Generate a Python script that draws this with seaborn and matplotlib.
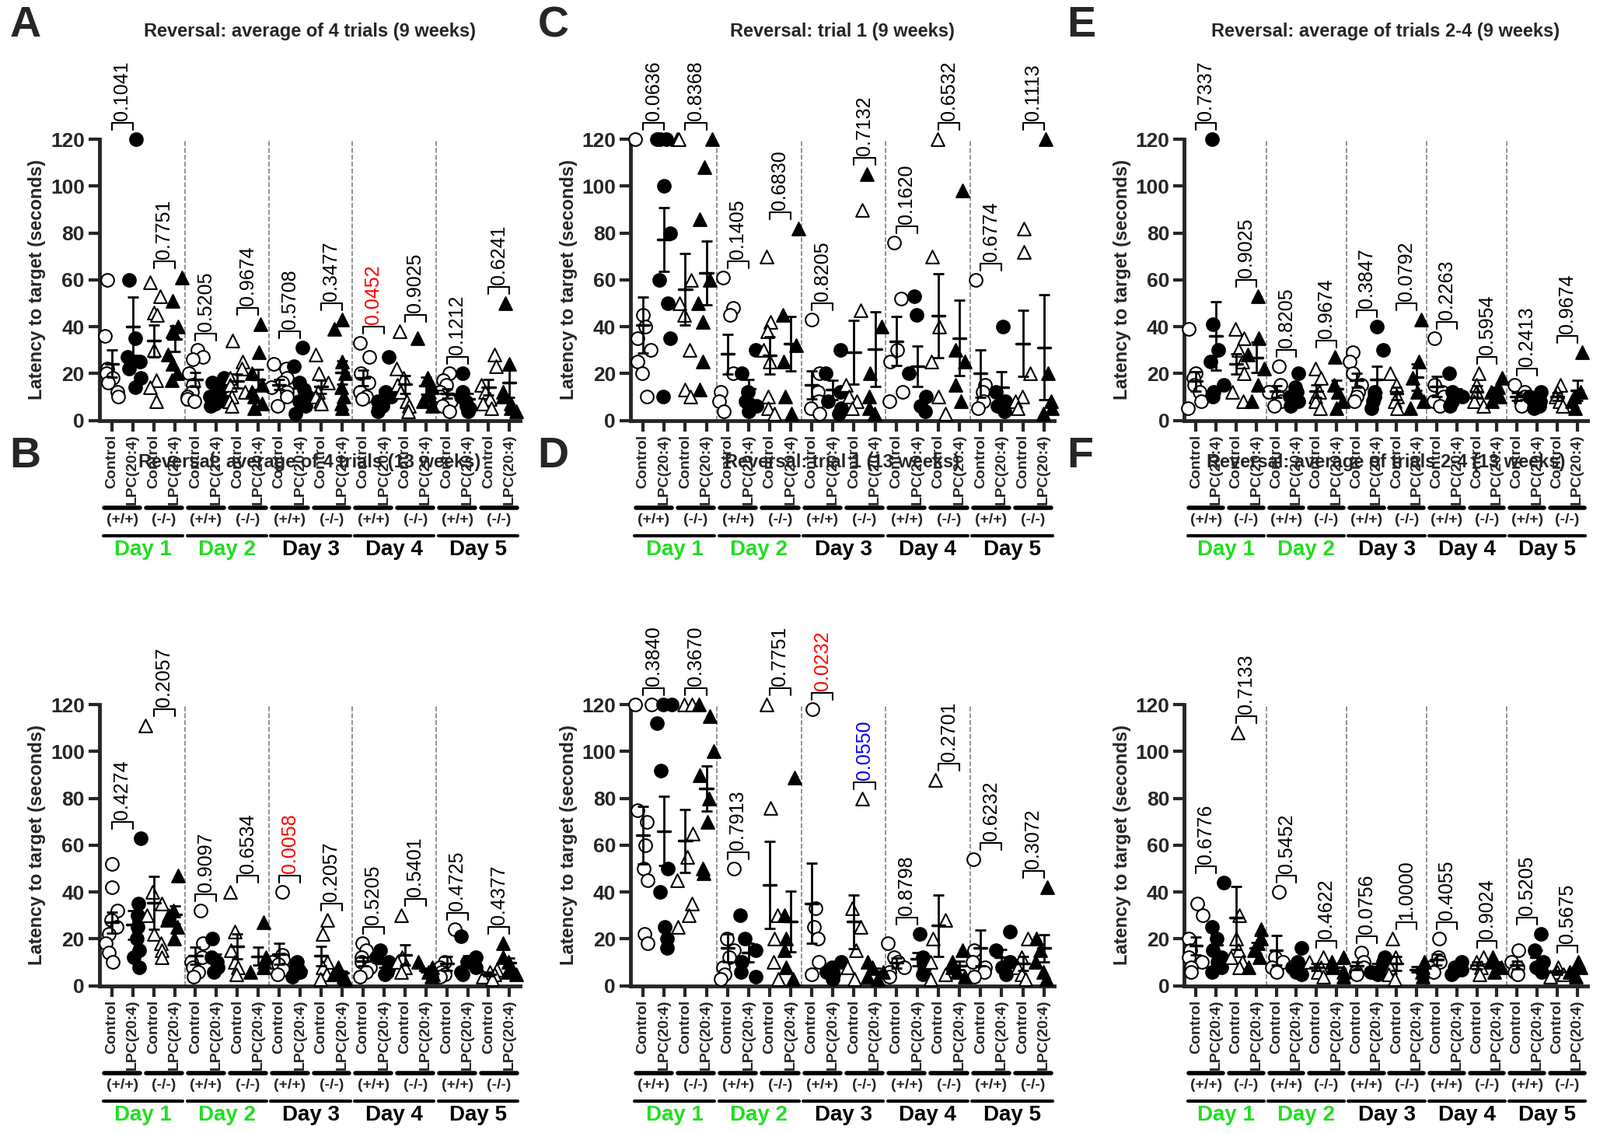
import numpy as np
import pandas as pd
import matplotlib
matplotlib.use("Agg")
import matplotlib.pyplot as plt
import seaborn as sns
from matplotlib.transforms import blended_transform_factory

sns.set_theme(style="ticks")
plt.rcParams['font.family'] = ['Liberation Sans', 'DejaVu Sans']

groups = ["Control", "LPC(20:4)"]
genotypes = ["(+/+)", "(-/-)"]
days = ["Day 1", "Day 2", "Day 3", "Day 4", "Day 5"]
day_colors = ["#22dd22", "#22dd22", "black", "black", "black"]
yticks = [0, 20, 40, 60, 80, 100, 120]

titles = ["Reversal: average of 4 trials (9 weeks)",
          "Reversal: average of 4 trials (13 weeks)",
          "Reversal: trial 1 (9 weeks)",
          "Reversal: trial 1 (13 weeks)",
          "Reversal: average of trials 2-4 (9 weeks)",
          "Reversal: average of trials 2-4 (13 weeks)"]
letters = ["A", "B", "C", "D", "E", "F"]

A_vals = [[60,36,22,20,18,16,12,10],[120,60,35,27,25,22,18,14],[59,53,46,45,30,17,14,8],[61,51,40,38,28,24,20,17],
          [30,27,26,20,15,12,10,9,8],[18,16,14,12,10,8,7,6],[34,25,22,18,15,12,10,8,6],[41,29,20,15,12,10,7,5],
          [24,22,18,16,14,12,10,6],[31,23,16,13,10,8,6,3],[28,20,16,12,10,8,7],[43,39,25,20,14,10,7,5],
          [33,27,20,16,12,10,9],[27,12,10,8,6,5,4],[38,22,18,15,12,8,6,4],[35,18,14,12,10,8,6],
          [20,17,15,12,10,8,6,4],[20,12,10,8,6,5,4],[28,23,15,12,9,7,5],[50,24,12,10,7,5,4]]
B_vals = [[52,42,32,28,25,22,18,14,10],[63,35,30,25,20,15,12,8],[111,40,35,30,22,18,15,12],[47,32,30,28,25,20],
          [32,18,12,10,8,6,4],[20,12,10,8,6],[40,23,15,10,8,5],[27,12,10,8,6],
          [40,13,11,10,9,7,5],[10,8,7,6,5,4],[28,22,10,8,5,3],[8,7,6,5,4,3],
          [18,15,12,10,8,6,4],[15,12,10,8,6,5],[30,12,10,8,6],[10,8,7,6,5,4],
          [24,10,8,6,5,4],[21,12,10,8,6,5],[7,6,5,4,3],[18,12,10,8,6,5]]
C_vals = [[120,45,40,35,30,25,20,10],[120,120,120,100,80,60,50,35,10],[120,120,60,50,45,30,13,10],[120,108,86,60,50,42,25,13],
          [61,48,45,20,12,8,4],[30,20,12,8,6,4],[70,42,38,30,25,10,5,3],[82,45,32,25,10,3],
          [43,20,12,8,5,3],[30,20,12,8,5,3],[90,47,15,10,8,5],[105,40,20,10,5,3],
          [76,52,30,25,12,8],[53,45,20,10,6,4],[120,70,40,25,10,3],[98,30,25,15,8],
          [60,15,12,8,5],[40,12,8,6,4],[82,72,20,10,8,5],[120,20,8,5,3]]
D_vals = [[120,120,75,70,60,50,45,22,18],[120,120,112,92,50,40,25,20,16],[120,120,65,55,45,35,30,25],[120,115,100,90,80,70,50,48],
          [50,20,15,12,8,5,3],[30,20,15,10,6,4],[120,76,30,20,10,3],[89,30,20,15,8,3],
          [118,33,25,20,10,5],[10,8,6,5,3],[80,33,25,15,8,3],[10,8,6,4,3],
          [18,12,10,8,6,4],[22,12,10,8,5],[88,28,20,10,5,3],[15,10,8,6,4],
          [54,15,10,8,6,4],[23,15,10,8,5],[20,12,8,5,3],[42,20,15,10,6,3]]
E_vals = [[39,20,18,15,12,8,5],[120,41,30,25,15,12,10],[39,35,30,25,20,12,8],[53,35,28,22,15,8],
          [23,15,12,10,8,6],[20,14,12,10,8,6],[22,18,12,10,8,5],[27,15,12,8,5],
          [29,25,20,15,12,10,8],[40,30,12,10,8,5],[20,15,10,8,5],[43,25,18,12,8,5],
          [35,15,12,10,8,6],[20,12,10,8,6],[20,15,12,8,6],[18,14,12,10,8],
          [15,12,10,8,6],[12,10,8,6,5],[15,12,10,8,6],[29,12,10,8,5]]
F_vals = [[35,30,20,15,12,10,8,6],[44,25,20,15,12,10,8,6],[108,30,20,15,12,10,8],[24,20,18,15,12,8],
          [40,12,10,8,6],[16,10,8,6,5],[12,10,8,6,4],[12,10,8,6,4],
          [14,10,8,6,5],[12,10,8,6,5],[20,12,8,5,3],[10,8,6,4],
          [20,12,10,8,6],[10,8,7,6,5],[12,10,8,5],[12,10,8,6],
          [15,10,8,6,5],[22,15,10,8,6],[8,6,5,4],[10,8,6,4]]

A_p = ["0.1041","0.7751","0.5205","0.9674","0.5708","0.3477","0.0452","0.9025","0.1212","0.6241"]
B_p = ["0.4274","0.2057","0.9097","0.6534","0.0058","0.2057","0.5205","0.5401","0.4725","0.4377"]
C_p = ["0.0636","0.8368","0.1405","0.6830","0.8205","0.7132","0.1620","0.6532","0.6774","0.1113"]
D_p = ["0.3840","0.3670","0.7913","0.7751","0.0232","0.0550","0.8798","0.2701","0.6232","0.3072"]
E_p = ["0.7337","0.9025","0.8205","0.9674","0.3847","0.0792","0.2263","0.5954","0.2413","0.9674"]
F_p = ["0.6776","0.7133","0.5452","0.4622","0.0756","1.0000","0.4055","0.9024","0.5205","0.5675"]
A_pc = {6: "red"}; B_pc = {4: "red"}; C_pc = {}; D_pc = {4: "red", 5: "blue"}; E_pc = {}; F_pc = {}

panels = [(A_vals, A_p, A_pc), (B_vals, B_p, B_pc), (C_vals, C_p, C_pc),
          (D_vals, D_p, D_pc), (E_vals, E_p, E_pc), (F_vals, F_p, F_pc)]

rects = [(0.062, 0.629, 0.263, 0.248), (0.062, 0.130, 0.263, 0.248),
         (0.394, 0.629, 0.265, 0.248), (0.394, 0.130, 0.265, 0.248),
         (0.740, 0.629, 0.252, 0.248), (0.740, 0.130, 0.252, 0.248)]
letter_pos = [(0.006, 0.995), (0.006, 0.615), (0.336, 0.995), (0.336, 0.615), (0.667, 0.995), (0.667, 0.615)]
title_y = [0.972, 0.592, 0.972, 0.592, 0.972, 0.592]

styles = [("o", "none"), ("o", "black"), ("^", "none"), ("^", "black")]

fig = plt.figure(figsize=(20.58, 14.57), dpi=100)
for pi, ((vals, pv, pc), rect) in enumerate(zip(panels, rects)):
    ax = fig.add_axes(rect)
    rows = []
    for g, v in enumerate(vals):
        for y in v:
            rows.append({"x": g, "y": y, "kind": g % 4})
    df = pd.DataFrame(rows)
    for k, (m, fc) in enumerate(styles):
        sub = df[df.kind == k]
        sns.stripplot(data=sub, x="x", y="y", native_scale=True, jitter=0.1,
                      marker=m, size=12, color="black" if fc == "black" else "white",
                      edgecolor="black", linewidth=1.5, ax=ax, clip_on=False, zorder=3)
    for g, v in enumerate(vals):
        v = np.array(v, float)
        mu = v.mean(); se = v.std(ddof=1) / np.sqrt(len(v))
        ax.errorbar(g, mu, yerr=se, fmt="none", ecolor="black", elinewidth=2, capsize=5, capthick=2, zorder=4)
        ax.plot([g - 0.3, g + 0.3], [mu, mu], color="black", lw=2.5, zorder=4)
    for d in range(1, 5):
        ax.axvline(4 * d - 0.5, color="gray", ls="--", lw=1.2)
    for j in range(10):
        g0, g1 = 2 * j, 2 * j + 1
        top = max(max(vals[g0]), max(vals[g1])) + 7
        ax.plot([g0, g0, g1, g1], [top - 3, top, top, top - 3], color="black", lw=1.5, clip_on=False)
        ax.text((g0 + g1) / 2, top + 1.0, pv[j], rotation=90, ha="center", va="bottom",
                fontsize=18, color=pc.get(j, "black"), clip_on=False)
    ax.set_xlim(-0.6, 19.5)
    ax.set_ylim(0, 120)
    ax.set_yticks(yticks)
    ax.set_yticklabels([str(t) for t in yticks], fontsize=19, fontweight="bold")
    ax.set_xticks(range(20))
    ax.set_xticklabels([])
    ax.tick_params(axis="both", width=3, length=10)
    ax.set_xlabel("")
    ax.set_ylabel("Latency to target (seconds)", fontsize=17, fontweight="bold")
    sns.despine(ax=ax)
    for s in ("left", "bottom"):
        ax.spines[s].set_linewidth(3.5)
    fig.text(rect[0] + rect[2] / 2, title_y[pi], titles[pi], fontsize=17, fontweight="bold",
             ha="center", va="center")
    tr = blended_transform_factory(ax.transData, ax.transAxes)
    for g in range(20):
        ax.text(g, -0.05, groups[g % 2], rotation=90, ha="center", va="top", fontsize=14,
                fontweight="bold", transform=tr)
    for j in range(10):
        ax.plot([2 * j - 0.35, 2 * j + 1.35], [-0.31, -0.31], color="black", lw=4, transform=tr, clip_on=False)
        ax.text(2 * j + 0.5, -0.33, genotypes[j % 2], ha="center", va="top", fontsize=14,
                fontweight="bold", transform=tr)
    for d in range(5):
        ax.plot([4 * d - 0.4, 4 * d + 3.4], [-0.41, -0.41], color="black", lw=3, transform=tr, clip_on=False)
        ax.text(4 * d + 1.5, -0.425, days[d], ha="center", va="top", fontsize=20,
                fontweight="bold", color=day_colors[d], transform=tr)
    fig.text(letter_pos[pi][0], letter_pos[pi][1], letters[pi], fontsize=40, fontweight="bold",
             ha="left", va="top")

fig.savefig("out.png", dpi=100)
